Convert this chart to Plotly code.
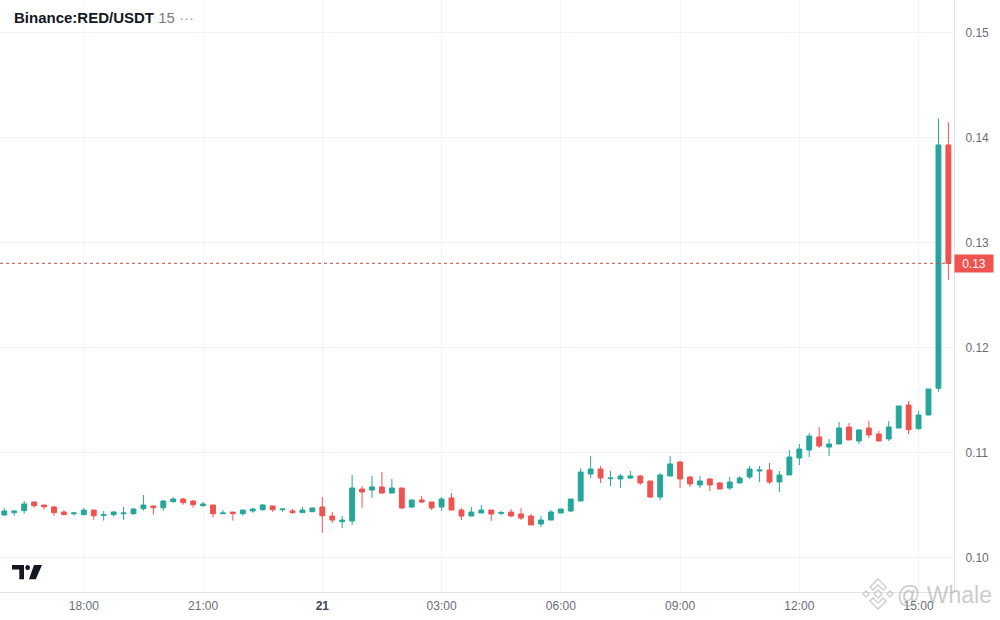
import pandas as pd
import plotly.graph_objects as go

# 15 minute candles, Binance:RED/USDT
times = pd.date_range("2025-03-20 16:00", periods=96, freq="15min")

open_ = [0.10403, 0.10425, 0.10444, 0.10527, 0.10498, 0.10479, 0.10431, 0.10415, 0.10406, 0.10450,
         0.10400, 0.10406, 0.10415, 0.10415, 0.10463, 0.10489, 0.10472, 0.10530, 0.10555, 0.10536,
         0.10491, 0.10498, 0.10415, 0.10431, 0.10415, 0.10441, 0.10453, 0.10489, 0.10453, 0.10441,
         0.10425, 0.10434, 0.10479, 0.10393, 0.10339, 0.10346, 0.10650, 0.10641, 0.10670, 0.10612,
         0.10660, 0.10479, 0.10546, 0.10527, 0.10479, 0.10565, 0.10450, 0.10393, 0.10422, 0.10450,
         0.10419, 0.10431, 0.10412, 0.10393, 0.10317, 0.10355, 0.10422, 0.10441, 0.10536, 0.10793,
         0.10841, 0.10749, 0.10746, 0.10755, 0.10774, 0.10727, 0.10574, 0.10774, 0.10908, 0.10765,
         0.10689, 0.10746, 0.10708, 0.10660, 0.10708, 0.10765, 0.10822, 0.10831, 0.10717, 0.10784,
         0.10946, 0.11022, 0.11146, 0.11050, 0.11079, 0.11241, 0.11108, 0.11231, 0.11174, 0.11127,
         0.11231, 0.11450, 0.11225, 0.11355, 0.11610, 0.13927]

high = [0.10470, 0.10450, 0.10536, 0.10527, 0.10498, 0.10489, 0.10450, 0.10431, 0.10470, 0.10450,
        0.10441, 0.10441, 0.10479, 0.10470, 0.10593, 0.10489, 0.10546, 0.10574, 0.10565, 0.10546,
        0.10527, 0.10498, 0.10450, 0.10431, 0.10450, 0.10470, 0.10508, 0.10489, 0.10460, 0.10460,
        0.10479, 0.10470, 0.10574, 0.10431, 0.10393, 0.10784, 0.10679, 0.10774, 0.10812, 0.10746,
        0.10660, 0.10546, 0.10584, 0.10527, 0.10574, 0.10612, 0.10470, 0.10479, 0.10498, 0.10450,
        0.10441, 0.10460, 0.10470, 0.10412, 0.10393, 0.10450, 0.10460, 0.10555, 0.10850, 0.10965,
        0.10870, 0.10822, 0.10793, 0.10822, 0.10784, 0.10727, 0.10803, 0.10965, 0.10917, 0.10774,
        0.10774, 0.10755, 0.10717, 0.10765, 0.10774, 0.10870, 0.10870, 0.10898, 0.10822, 0.11022,
        0.11079, 0.11184, 0.11241, 0.11127, 0.11289, 0.11279, 0.11222, 0.11298, 0.11203, 0.11298,
        0.11441, 0.11489, 0.11393, 0.11603, 0.14181, 0.14143]

low = [0.10393, 0.10396, 0.10415, 0.10472, 0.10453, 0.10396, 0.10406, 0.10396, 0.10400, 0.10358,
       0.10349, 0.10387, 0.10358, 0.10406, 0.10444, 0.10406, 0.10444, 0.10520, 0.10501, 0.10472,
       0.10482, 0.10377, 0.10415, 0.10349, 0.10396, 0.10425, 0.10444, 0.10434, 0.10434, 0.10415,
       0.10425, 0.10434, 0.10234, 0.10327, 0.10279, 0.10308, 0.10470, 0.10565, 0.10603, 0.10612,
       0.10460, 0.10470, 0.10517, 0.10450, 0.10441, 0.10450, 0.10355, 0.10393, 0.10422, 0.10346,
       0.10403, 0.10384, 0.10355, 0.10308, 0.10289, 0.10355, 0.10422, 0.10431, 0.10536, 0.10755,
       0.10708, 0.10679, 0.10660, 0.10746, 0.10689, 0.10565, 0.10546, 0.10774, 0.10660, 0.10670,
       0.10660, 0.10631, 0.10650, 0.10641, 0.10708, 0.10746, 0.10717, 0.10698, 0.10622, 0.10784,
       0.10879, 0.10955, 0.11041, 0.10965, 0.11079, 0.11117, 0.11079, 0.11136, 0.11108, 0.11108,
       0.11231, 0.11174, 0.11215, 0.11355, 0.11577, 0.12641]

close = [0.10441, 0.10441, 0.10508, 0.10491, 0.10482, 0.10425, 0.10406, 0.10422, 0.10450, 0.10396,
         0.10406, 0.10431, 0.10422, 0.10460, 0.10498, 0.10472, 0.10536, 0.10555, 0.10520, 0.10501,
         0.10508, 0.10415, 0.10422, 0.10415, 0.10450, 0.10460, 0.10498, 0.10453, 0.10460, 0.10425,
         0.10450, 0.10470, 0.10396, 0.10355, 0.10355, 0.10660, 0.10622, 0.10670, 0.10612, 0.10660,
         0.10470, 0.10546, 0.10527, 0.10470, 0.10555, 0.10450, 0.10393, 0.10431, 0.10450, 0.10412,
         0.10425, 0.10393, 0.10374, 0.10308, 0.10355, 0.10431, 0.10460, 0.10555, 0.10812, 0.10841,
         0.10755, 0.10755, 0.10774, 0.10774, 0.10708, 0.10574, 0.10784, 0.10889, 0.10746, 0.10698,
         0.10727, 0.10689, 0.10650, 0.10717, 0.10755, 0.10841, 0.10831, 0.10717, 0.10784, 0.10955,
         0.11031, 0.11155, 0.11060, 0.11079, 0.11231, 0.11117, 0.11212, 0.11165, 0.11108, 0.11241,
         0.11441, 0.11215, 0.11355, 0.11603, 0.13927, 0.12800]

tick_times = ["2025-03-20 18:00", "2025-03-20 21:00", "2025-03-21 00:00", "2025-03-21 03:00",
              "2025-03-21 06:00", "2025-03-21 09:00", "2025-03-21 12:00", "2025-03-21 15:00"]
tick_labels = ["18:00", "21:00", "<b><span style='color:#434651'>21</span></b>", "03:00",
               "06:00", "09:00", "12:00", "15:00"]
price_ticks = [0.10, 0.11, 0.12, 0.13, 0.14, 0.15]

UP = "#26a69a"
DOWN = "#ef5350"
GRID = "#f0f3fa"
TXT = "#6a6d78"
FONT = "Liberation Sans, Arial, sans-serif"

Y_RANGE = [0.096695, 0.153076]
X_RANGE = ["2025-03-20 15:53:30", "2025-03-21 15:53:30"]

# plot area in pixels (for logo / watermark drawing)
PW, PH = 954, 592


def px(x, y):
    return x / PW, (PH - y) / PH


def path(points):
    s = ""
    for i, (x, y) in enumerate(points):
        xp, yp = px(x, y)
        s += ("M" if i == 0 else "L") + f"{xp:.5f},{yp:.5f} "
    return s + "Z"


fig = go.Figure(go.Candlestick(
    x=times, open=open_, high=high, low=low, close=close,
    increasing=dict(line=dict(color=UP, width=1), fillcolor=UP),
    decreasing=dict(line=dict(color=DOWN, width=1), fillcolor=DOWN),
    hoverinfo="skip",
))

shapes = []
# last price line
shapes.append(dict(type="line", xref="paper", yref="y", x0=0, x1=1,
                   y0=close[-1], y1=close[-1],
                   line=dict(color="#c0504d", width=1, dash="dot"), layer="above"))

# TradingView logo
logo = "#131722"
shapes.append(dict(type="path", xref="paper", yref="paper", fillcolor=logo, line=dict(width=0),
                   path=path([(12, 565), (24, 565), (24, 579.3), (19.3, 579.3), (19.3, 569.5), (12, 569.5)])))
shapes.append(dict(type="path", xref="paper", yref="paper", fillcolor=logo, line=dict(width=0),
                   path=path([(34, 565), (42, 565), (35.8, 579.3), (29, 579.3)])))
cx0, cy0 = px(25.3, 565)
cx1, cy1 = px(30, 570)
shapes.append(dict(type="circle", xref="paper", yref="paper", x0=cx0, y0=cy0, x1=cx1, y1=cy1,
                   fillcolor=logo, line=dict(width=0)))

# watermark logo (diamond style)
wm_line = dict(color="rgba(170,170,170,0.55)", width=1.5)
wm_fill = "rgba(255,255,255,0.5)"
for pts in [
    [(870, 587), (878, 579), (886, 587), (883, 590), (878, 585), (873, 590)],
    [(870, 601), (878, 609), (886, 601), (883, 598), (878, 603), (873, 598)],
    [(878, 590), (882, 594), (878, 598), (874, 594)],
    [(866, 591), (869, 594), (866, 597), (863, 594)],
    [(890, 591), (893, 594), (890, 597), (887, 594)],
]:
    shapes.append(dict(type="path", xref="paper", yref="paper", path=path(pts),
                       line=wm_line, fillcolor=wm_fill, layer="above"))

annotations = []
tx, ty = px(12, 18)
annotations.append(dict(
    xref="paper", yref="paper", x=tx, y=ty, xanchor="left", yanchor="middle", showarrow=False,
    text="<b>Binance:RED/USDT</b> <span style='color:#787b86'>15</span> "
         "<span style='color:#8fa3bf'>···</span>",
    font=dict(family=FONT, size=15, color="#131722"),
))
annotations.append(dict(
    xref="paper", yref="y", x=1, y=close[-1], xanchor="left", yanchor="middle", showarrow=False,
    text=f"{close[-1]:.2f}", font=dict(family=FONT, size=12, color="white"),
    bgcolor=DOWN, width=36, height=15, borderpad=1, align="center",
))
wx, wy = px(895, 595)
annotations.append(dict(
    xref="paper", yref="paper", x=wx, y=wy, xanchor="left", yanchor="middle", showarrow=False,
    text="@ Whale", font=dict(family=FONT, size=23, color="rgba(150,150,150,0.5)"),
))

fig.update_layout(
    width=1000, height=620,
    margin=dict(l=0, r=1000 - PW, t=0, b=620 - PH),
    paper_bgcolor="white", plot_bgcolor="white",
    showlegend=False,
    font=dict(family=FONT, size=12, color=TXT),
    shapes=shapes, annotations=annotations,
    xaxis=dict(
        range=X_RANGE, rangeslider=dict(visible=False),
        tickvals=tick_times, ticktext=tick_labels,
        showgrid=True, gridcolor=GRID, gridwidth=1,
        showline=True, linecolor="#e0e3eb", linewidth=1, mirror=False,
        ticks="outside", ticklen=3, tickcolor="rgba(0,0,0,0)",
        tickfont=dict(family=FONT, size=12, color=TXT),
        zeroline=False, fixedrange=True,
    ),
    yaxis=dict(
        range=Y_RANGE, side="right",
        tickvals=price_ticks, tickformat=".2f",
        showgrid=True, gridcolor=GRID, gridwidth=1,
        showline=True, linecolor="#e0e3eb", linewidth=1,
        ticks="outside", ticklen=8, tickcolor="rgba(0,0,0,0)",
        tickfont=dict(family=FONT, size=12, color=TXT),
        zeroline=False, fixedrange=True,
    ),
)

# drop the page's default body margin so the figure sits at the window's corner
fig.write_html("out.html", config={"displayModeBar": False},
               post_script="document.body.style.margin = '0px';")
